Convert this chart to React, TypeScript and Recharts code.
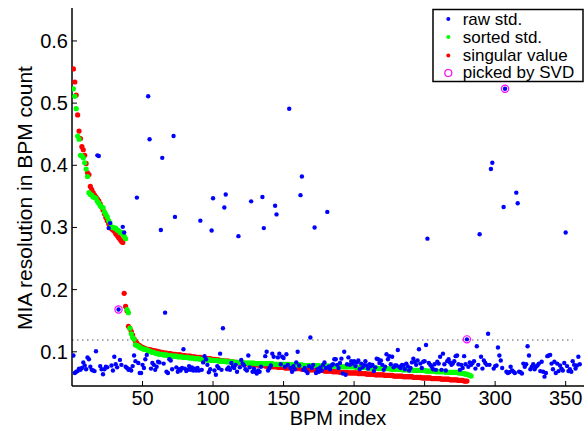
import { ScatterChart, Scatter, XAxis, YAxis, ReferenceLine } from "recharts";

const FONT = "'Liberation Sans', Arial, Helvetica, sans-serif";

// raw std. of each BPM (index 1..360)
const rawStd = [
  0.094, 0.066, 0.068, 0.069, 0.073, 0.071, 0.074, 0.083, 0.078, 0.072,
  0.091, 0.088, 0.076, 0.071, 0.070, 0.069, 0.101, 0.416, 0.415, 0.077,
  0.072, 0.064, 0.072, 0.076, 0.075, 0.299, 0.307, 0.078, 0.070, 0.092,
  0.080, 0.075, 0.168, 0.087, 0.079, 0.301, 0.292, 0.076, 0.074, 0.071,
  0.072, 0.070, 0.077, 0.094, 0.085, 0.348, 0.082, 0.066, 0.066, 0.079,
  0.074, 0.088, 0.095, 0.511, 0.442, 0.073, 0.082, 0.079, 0.071, 0.076,
  0.084, 0.083, 0.296, 0.412, 0.081, 0.163, 0.068, 0.066, 0.088, 0.086,
  0.072, 0.447, 0.317, 0.075, 0.068, 0.072, 0.070, 0.074, 0.104, 0.073,
  0.069, 0.071, 0.077, 0.071, 0.075, 0.070, 0.073, 0.070, 0.074, 0.070,
  0.311, 0.071, 0.083, 0.093, 0.088, 0.079, 0.067, 0.072, 0.295, 0.347,
  0.070, 0.063, 0.077, 0.074, 0.097, 0.071, 0.138, 0.332, 0.353, 0.072,
  0.075, 0.071, 0.082, 0.076, 0.074, 0.079, 0.068, 0.286, 0.075, 0.087,
  0.081, 0.078, 0.072, 0.070, 0.094, 0.075, 0.342, 0.068, 0.073, 0.068,
  0.065, 0.070, 0.068, 0.076, 0.349, 0.299, 0.093, 0.100, 0.070, 0.074,
  0.078, 0.097, 0.092, 0.335, 0.321, 0.091, 0.097, 0.080, 0.092, 0.090,
  0.076, 0.096, 0.079, 0.491, 0.074, 0.068, 0.077, 0.072, 0.083, 0.100,
  0.078, 0.352, 0.382, 0.071, 0.074, 0.069, 0.066, 0.077, 0.123, 0.074,
  0.079, 0.300, 0.066, 0.072, 0.068, 0.075, 0.070, 0.079, 0.083, 0.074,
  0.325, 0.076, 0.072, 0.078, 0.080, 0.088, 0.088, 0.079, 0.074, 0.082,
  0.089, 0.065, 0.100, 0.063, 0.080, 0.091, 0.079, 0.085, 0.081, 0.085,
  0.077, 0.083, 0.086, 0.072, 0.081, 0.075, 0.079, 0.085, 0.078, 0.073,
  0.080, 0.077, 0.079, 0.069, 0.075, 0.089, 0.088, 0.082, 0.086, 0.079,
  0.071, 0.076, 0.096, 0.088, 0.093, 0.080, 0.092, 0.075, 0.078, 0.078,
  0.103, 0.076, 0.074, 0.079, 0.078, 0.072, 0.081, 0.077, 0.070, 0.074,
  0.083, 0.089, 0.084, 0.079, 0.086, 0.104, 0.081, 0.074, 0.084, 0.085,
  0.111, 0.282, 0.082, 0.079, 0.076, 0.072, 0.080, 0.071, 0.084, 0.081,
  0.092, 0.071, 0.097, 0.080, 0.070, 0.085, 0.088, 0.083, 0.079, 0.081,
  0.085, 0.093, 0.094, 0.080, 0.071, 0.079, 0.074, 0.093, 0.080, 0.120,
  0.076, 0.083, 0.079, 0.082, 0.085, 0.073, 0.109, 0.079, 0.289, 0.092,
  0.073, 0.086, 0.082, 0.079, 0.129, 0.079, 0.394, 0.404, 0.073, 0.077,
  0.078, 0.107, 0.094, 0.086, 0.074, 0.333, 0.523, 0.068, 0.066, 0.067,
  0.076, 0.070, 0.068, 0.066, 0.356, 0.339, 0.068, 0.067, 0.065, 0.081,
  0.076, 0.080, 0.109, 0.094, 0.072, 0.076, 0.080, 0.072, 0.076, 0.078,
  0.081, 0.069, 0.084, 0.068, 0.060, 0.066, 0.093, 0.094, 0.095, 0.081,
  0.072, 0.084, 0.066, 0.081, 0.069, 0.078, 0.073, 0.070, 0.082, 0.292,
  0.077, 0.069, 0.072, 0.068, 0.085, 0.079, 0.073, 0.078, 0.092, 0.080,
];

// sorted std. (283 BPMs)
const sortedStd = [
  0.523, 0.511, 0.491, 0.447, 0.442, 0.416, 0.415, 0.412, 0.404, 0.394,
  0.382, 0.356, 0.353, 0.352, 0.349, 0.348, 0.347, 0.342, 0.339, 0.335,
  0.333, 0.332, 0.325, 0.321, 0.317, 0.311, 0.307, 0.301, 0.300, 0.299,
  0.299, 0.296, 0.295, 0.292, 0.292, 0.289, 0.286, 0.282, 0.168, 0.163,
  0.138, 0.129, 0.123, 0.120, 0.111, 0.110, 0.109, 0.107, 0.106, 0.105,
  0.104, 0.104, 0.103, 0.102, 0.101, 0.100, 0.099, 0.099, 0.098, 0.097,
  0.097, 0.096, 0.096, 0.096, 0.095, 0.095, 0.095, 0.094, 0.094, 0.094,
  0.093, 0.093, 0.093, 0.093, 0.092, 0.092, 0.092, 0.092, 0.091, 0.091,
  0.091, 0.091, 0.090, 0.090, 0.090, 0.090, 0.089, 0.089, 0.089, 0.089,
  0.088, 0.088, 0.088, 0.088, 0.087, 0.087, 0.087, 0.087, 0.086, 0.086,
  0.086, 0.086, 0.086, 0.085, 0.085, 0.085, 0.085, 0.085, 0.084, 0.084,
  0.084, 0.084, 0.084, 0.084, 0.083, 0.083, 0.083, 0.083, 0.083, 0.083,
  0.083, 0.082, 0.082, 0.082, 0.082, 0.082, 0.082, 0.082, 0.082, 0.081,
  0.081, 0.081, 0.081, 0.081, 0.081, 0.081, 0.081, 0.081, 0.081, 0.081,
  0.081, 0.081, 0.080, 0.080, 0.080, 0.080, 0.080, 0.080, 0.080, 0.080,
  0.080, 0.080, 0.080, 0.080, 0.079, 0.079, 0.079, 0.079, 0.079, 0.079,
  0.079, 0.079, 0.079, 0.078, 0.078, 0.078, 0.078, 0.078, 0.078, 0.078,
  0.078, 0.078, 0.078, 0.078, 0.078, 0.077, 0.077, 0.077, 0.077, 0.077,
  0.077, 0.077, 0.077, 0.077, 0.077, 0.077, 0.077, 0.077, 0.076, 0.076,
  0.076, 0.076, 0.076, 0.076, 0.076, 0.076, 0.076, 0.076, 0.076, 0.076,
  0.075, 0.075, 0.075, 0.075, 0.075, 0.075, 0.075, 0.075, 0.074, 0.074,
  0.074, 0.074, 0.074, 0.074, 0.074, 0.074, 0.073, 0.073, 0.073, 0.073,
  0.073, 0.073, 0.073, 0.073, 0.073, 0.072, 0.072, 0.072, 0.072, 0.072,
  0.072, 0.072, 0.072, 0.071, 0.071, 0.071, 0.071, 0.071, 0.071, 0.071,
  0.071, 0.070, 0.070, 0.070, 0.070, 0.070, 0.070, 0.070, 0.070, 0.070,
  0.069, 0.069, 0.069, 0.069, 0.069, 0.069, 0.069, 0.068, 0.068, 0.068,
  0.068, 0.068, 0.068, 0.068, 0.067, 0.067, 0.067, 0.067, 0.067, 0.067,
  0.067, 0.067, 0.067, 0.066, 0.066, 0.066, 0.065, 0.065, 0.064, 0.064,
  0.063, 0.062, 0.061,
];

// singular values (280)
const singularValue = [
  0.555, 0.534, 0.513, 0.481, 0.455, 0.443, 0.430, 0.425, 0.416, 0.403,
  0.388, 0.385, 0.366, 0.361, 0.356, 0.352, 0.349, 0.346, 0.343, 0.338,
  0.333, 0.328, 0.322, 0.316, 0.311, 0.306, 0.301, 0.298, 0.296, 0.294,
  0.290, 0.287, 0.284, 0.281, 0.278, 0.276, 0.194, 0.173, 0.166, 0.141,
  0.138, 0.133, 0.127, 0.121, 0.117, 0.114, 0.111, 0.110, 0.108, 0.107,
  0.106, 0.105, 0.104, 0.104, 0.103, 0.103, 0.102, 0.102, 0.101, 0.101,
  0.100, 0.100, 0.099, 0.099, 0.098, 0.098, 0.098, 0.097, 0.097, 0.097,
  0.096, 0.096, 0.096, 0.095, 0.095, 0.095, 0.095, 0.094, 0.094, 0.094,
  0.093, 0.093, 0.093, 0.093, 0.092, 0.092, 0.092, 0.091, 0.091, 0.091,
  0.091, 0.090, 0.090, 0.090, 0.089, 0.089, 0.089, 0.089, 0.088, 0.088,
  0.088, 0.087, 0.087, 0.087, 0.086, 0.086, 0.086, 0.085, 0.085, 0.085,
  0.085, 0.084, 0.084, 0.084, 0.083, 0.083, 0.083, 0.082, 0.082, 0.082,
  0.081, 0.081, 0.081, 0.081, 0.080, 0.080, 0.080, 0.080, 0.079, 0.079,
  0.079, 0.079, 0.078, 0.078, 0.078, 0.078, 0.077, 0.077, 0.077, 0.077,
  0.076, 0.076, 0.076, 0.076, 0.076, 0.075, 0.075, 0.075, 0.075, 0.075,
  0.074, 0.074, 0.074, 0.074, 0.074, 0.073, 0.073, 0.073, 0.073, 0.073,
  0.073, 0.073, 0.072, 0.072, 0.072, 0.072, 0.072, 0.071, 0.071, 0.071,
  0.071, 0.071, 0.071, 0.070, 0.070, 0.070, 0.070, 0.070, 0.069, 0.069,
  0.069, 0.069, 0.069, 0.069, 0.068, 0.068, 0.068, 0.068, 0.068, 0.067,
  0.067, 0.067, 0.067, 0.067, 0.067, 0.066, 0.066, 0.066, 0.066, 0.066,
  0.066, 0.066, 0.065, 0.065, 0.065, 0.065, 0.065, 0.065, 0.064, 0.064,
  0.064, 0.064, 0.064, 0.064, 0.063, 0.063, 0.063, 0.063, 0.063, 0.063,
  0.063, 0.062, 0.062, 0.062, 0.062, 0.062, 0.062, 0.061, 0.061, 0.061,
  0.061, 0.061, 0.061, 0.061, 0.060, 0.060, 0.060, 0.060, 0.060, 0.060,
  0.060, 0.059, 0.059, 0.059, 0.059, 0.059, 0.059, 0.058, 0.058, 0.058,
  0.058, 0.058, 0.058, 0.058, 0.057, 0.057, 0.057, 0.057, 0.057, 0.057,
  0.057, 0.056, 0.056, 0.056, 0.056, 0.056, 0.056, 0.055, 0.055, 0.055,
  0.055, 0.055, 0.055, 0.054, 0.054, 0.054, 0.054, 0.053, 0.053, 0.053,
];

const pickedIndex = [33, 280, 307];
const thresholdLevel = 0.119;
const thresholdEnd = 355;
const xTicks = [50, 100, 150, 200, 250, 300, 350];
const yTicks = [0.1, 0.2, 0.3, 0.4, 0.5, 0.6];
const legendLabels = ["raw std.", "sorted std.", "singular value", "picked by SVD"];

const BLUE = "#0000ff";
const GREEN = "#00ff00";
const RED = "#ff0000";
const MAGENTA = "#ff00ff";

const toPoints = (vals: number[]) => vals.map((y, i) => ({ x: i + 1, y }));

const rawPts = toPoints(rawStd);
const sortedPts = toPoints(sortedStd);
const svPts = toPoints(singularValue);
const pickedPts = pickedIndex.map((i) => ({ x: i, y: rawStd[i - 1] }));

const dot = (fill: string, r: number) => (p: any) =>
  <circle cx={p.cx} cy={p.cy} r={r} fill={fill} />;

const ring = (p: any) => (
  <circle cx={p.cx} cy={p.cy} r={3.6} fill="none" stroke={MAGENTA} strokeWidth={1.2} />
);

const TL = 5; // inward tick length

function BottomTick({ x, y, payload }: any) {
  return (
    <g>
      <line x1={x} x2={x} y1={y} y2={y - TL} stroke="#000" />
      <text x={x} y={y + 19} textAnchor="middle" fontSize={20} fontFamily={FONT} fill="#000">
        {payload.value}
      </text>
    </g>
  );
}

function LeftTick({ x, y, payload }: any) {
  return (
    <g>
      <line x1={x} x2={x + TL} y1={y} y2={y} stroke="#000" />
      <text x={x - 4} y={y + 7} textAnchor="end" fontSize={20} fontFamily={FONT} fill="#000">
        {Number(payload.value).toFixed(1)}
      </text>
    </g>
  );
}

const TopTick = ({ x, y }: any) => <line x1={x} x2={x} y1={y} y2={y + TL} stroke="#000" />;
const RightTick = ({ x, y }: any) => <line x1={x} x2={x - TL} y1={y} y2={y} stroke="#000" />;

export default function App() {
  const rowY = [19, 37, 55.5, 73];
  const baseY = [25, 43, 61, 78];
  return (
    <div style={{ position: "absolute", left: 0, top: 0, width: 588, height: 431, background: "#fff" }}>
      <ScatterChart width={588} height={431} margin={{ top: 8, right: 4, bottom: 0, left: 0 }}>
        <XAxis
          type="number"
          dataKey="x"
          domain={[0, 363]}
          ticks={xTicks}
          interval={0}
          height={45}
          tickSize={0}
          tickMargin={0}
          tickLine={false}
          tick={<BottomTick />}
          axisLine={{ stroke: "#000", strokeWidth: 1.5 }}
          allowDataOverflow
        />
        <XAxis
          xAxisId="top"
          orientation="top"
          type="number"
          dataKey="x"
          domain={[0, 363]}
          ticks={xTicks}
          interval={0}
          height={0}
          tickSize={0}
          tickMargin={0}
          tickLine={false}
          tick={<TopTick />}
          axisLine={{ stroke: "#000", strokeWidth: 1.5 }}
          allowDataOverflow
        />
        <YAxis
          type="number"
          dataKey="y"
          domain={[0.045, 0.653]}
          ticks={yTicks}
          interval={0}
          width={72}
          tickSize={0}
          tickMargin={0}
          tickLine={false}
          tick={<LeftTick />}
          axisLine={{ stroke: "#000", strokeWidth: 1.5 }}
          allowDataOverflow
        />
        <YAxis
          yAxisId="right"
          orientation="right"
          type="number"
          dataKey="y"
          domain={[0.045, 0.653]}
          ticks={yTicks}
          interval={0}
          width={0}
          tickSize={0}
          tickMargin={0}
          tickLine={false}
          tick={<RightTick />}
          axisLine={{ stroke: "#000", strokeWidth: 1.5 }}
          allowDataOverflow
        />
        <ReferenceLine
          segment={[{ x: 0, y: thresholdLevel }, { x: thresholdEnd, y: thresholdLevel }]}
          stroke="#555"
          strokeDasharray="1.5 3.5"
          strokeWidth={1}
        />
        <Scatter data={svPts} shape={dot(RED, 2.6)} isAnimationActive={false} />
        <Scatter data={sortedPts} shape={dot(GREEN, 2.6)} isAnimationActive={false} />
        <Scatter data={rawPts} shape={dot(BLUE, 2.2)} isAnimationActive={false} />
        <Scatter data={pickedPts} shape={ring} isAnimationActive={false} />
      </ScatterChart>

      <svg
        width={588}
        height={431}
        style={{ position: "absolute", left: 0, top: 0, pointerEvents: "none" }}
        fontFamily={FONT}
      >
        <text x={338} y={425} textAnchor="middle" fontSize={20} fill="#000">
          BPM index
        </text>
        <text transform="translate(32,198) rotate(-90)" textAnchor="middle" fontSize={21} fill="#000">
          MIA resolution in BPM count
        </text>

        {/* legend */}
        <rect x={433} y={9.5} width={150} height={72} fill="#fff" stroke="#000" strokeWidth={1.5} />
        <circle cx={448.3} cy={rowY[0]} r={2} fill={BLUE} />
        <circle cx={448.3} cy={rowY[1]} r={2} fill={GREEN} />
        <circle cx={448.3} cy={rowY[2]} r={2} fill={RED} />
        <circle cx={448.3} cy={rowY[3]} r={3.5} fill="none" stroke={MAGENTA} strokeWidth={1.2} />
        {legendLabels.map((t, i) => (
          <text key={t} x={462.7} y={baseY[i]} fontSize={17} fill="#000">
            {t}
          </text>
        ))}
      </svg>
    </div>
  );
}
